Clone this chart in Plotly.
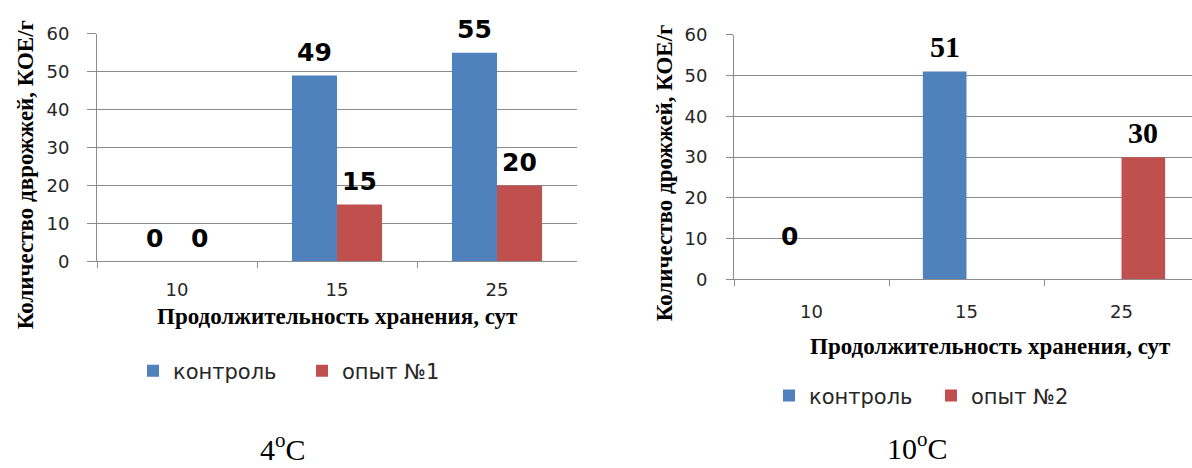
import plotly.graph_objects as go

# Storage duration, days
days = ["10", "15", "25"]

# Yeast counts at 4 °C, CFU/g
control_4c = [0, 49, 55]
trial1_4c = [0, 15, 20]

# Yeast counts at 10 °C, CFU/g (missing bars are None)
control_10c = [0, 51, None]
trial2_10c = [None, None, 30]

y_ticks = [0, 10, 20, 30, 40, 50, 60]

BLUE = "#4F81BD"
RED = "#C0504D"
GRID = "#8C8C8C"
TXT = "#262626"
W, H = 1192, 468
BARGAP = 0.437


def px_x(p):
    return p / W


def px_y(p):
    return 1 - p / H


# plot areas in pixels
left_box = dict(x0=97, x1=577, y0=24, y1=262)
right_box = dict(x0=734, x1=1192, y0=25, y1=281)
right_cat_px = 155  # width of one category on the right panel

fig = go.Figure()

fig.add_trace(go.Bar(x=days, y=control_4c, name="контроль", marker_color=BLUE,
                     xaxis="x", yaxis="y", legend="legend"))
fig.add_trace(go.Bar(x=days, y=trial1_4c, name="опыт №1", marker_color=RED,
                     xaxis="x", yaxis="y", legend="legend"))
fig.add_trace(go.Bar(x=days, y=control_10c, name="контроль", marker_color=BLUE,
                     xaxis="x2", yaxis="y2", legend="legend2"))
fig.add_trace(go.Bar(x=days, y=trial2_10c, name="опыт №2", marker_color=RED,
                     xaxis="x2", yaxis="y2", legend="legend2"))
fig.update_traces(marker_line_width=0)

tick_font = dict(family="DejaVu Sans", size=18, color=TXT)

common_x = dict(type="category", showgrid=False, showline=True, linecolor=GRID,
                linewidth=1, ticks="outside", tickson="boundaries", ticklen=6,
                tickcolor=GRID, tickfont=tick_font, fixedrange=True)
common_y = dict(range=[0, 60], tickvals=y_ticks, showgrid=True, gridcolor=GRID,
                gridwidth=1, showline=True, linecolor=GRID, linewidth=1,
                ticks="outside", tickcolor=GRID, tickfont=tick_font,
                zeroline=False, fixedrange=True)

left_cat_px = (left_box["x1"] - left_box["x0"]) / 3
right_span = (right_box["x1"] - right_box["x0"]) / right_cat_px

legend_font = dict(family="DejaVu Sans", size=21, color=TXT)

fig.update_layout(
    width=W, height=H,
    margin=dict(l=0, r=0, t=0, b=0),
    paper_bgcolor="white", plot_bgcolor="white",
    barmode="group", bargap=BARGAP, bargroupgap=0,
    xaxis=dict(common_x, domain=[px_x(left_box["x0"]), px_x(left_box["x1"])],
               range=[-0.5, 2.5], anchor="y", ticklabelstandoff=12),
    yaxis=dict(common_y, domain=[px_y(left_box["y1"]), px_y(left_box["y0"])],
               anchor="x", ticklen=9, ticklabelstandoff=14),
    xaxis2=dict(common_x, domain=[px_x(right_box["x0"]), px_x(right_box["x1"])],
                range=[-0.5, -0.5 + right_span], anchor="y2", ticklabelstandoff=16),
    yaxis2=dict(common_y, domain=[px_y(right_box["y1"]), px_y(right_box["y0"])],
                anchor="x2", ticklen=7, ticklabelstandoff=15),
    legend=dict(orientation="h", x=px_x(133), xanchor="left", y=px_y(377),
                yanchor="middle", font=legend_font,
                entrywidth=124, entrywidthmode="pixels", bgcolor="rgba(0,0,0,0)"),
    legend2=dict(orientation="h", x=px_x(769), xanchor="left", y=px_y(403),
                 yanchor="middle", font=legend_font,
                 entrywidth=117, entrywidthmode="pixels", bgcolor="rgba(0,0,0,0)"),
    showlegend=True,
)

annotations = []

# value labels above each bar
sans_bold = dict(family="DejaVu Sans", size=25, color="black", weight="bold")
serif_bold = dict(family="Liberation Serif", size=30, color="black", weight="bold")


def add_labels(values, xref, yref, cat_px, side, lift, font, zero_lift=None):
    half = cat_px * (1 - BARGAP) / 4
    for idx, v in enumerate(values):
        if v is None:
            continue
        f = font
        shift = lift
        if v == 0:
            f = sans_bold
            if zero_lift is not None:
                shift = zero_lift
        # category axes take the category index as the annotation position
        annotations.append(dict(
            x=idx, y=v, xref=xref, yref=yref, text=str(v), showarrow=False,
            xshift=side * half, yshift=shift, yanchor="middle", xanchor="center",
            font=f))


add_labels(control_4c, "x", "y", left_cat_px, -1, 23, sans_bold)
add_labels(trial1_4c, "x", "y", left_cat_px, 1, 23, sans_bold)
add_labels(control_10c, "x2", "y2", right_cat_px, -1, 25, serif_bold, zero_lift=43)
add_labels(trial2_10c, "x2", "y2", right_cat_px, 1, 25, serif_bold)

title_font = dict(family="Liberation Serif", size=23, color="black", weight="bold")

# axis titles
annotations += [
    dict(x=px_x(25), y=px_y(172), xref="paper", yref="paper", showarrow=False,
         text="Количество дврожжей, КОЕ/г", textangle=-90, font=title_font,
         xanchor="center", yanchor="middle"),
    dict(x=px_x(337), y=px_y(320), xref="paper", yref="paper", showarrow=False,
         text="Продолжительность хранения, сут", font=title_font,
         xanchor="center", yanchor="middle"),
    dict(x=px_x(664), y=px_y(170), xref="paper", yref="paper", showarrow=False,
         text="Количество дрожжей, КОЕ/г", textangle=-90, font=title_font,
         xanchor="center", yanchor="middle"),
    dict(x=px_x(990), y=px_y(351), xref="paper", yref="paper", showarrow=False,
         text="Продолжительность хранения, сут", font=title_font,
         xanchor="center", yanchor="middle"),
]

# temperature captions under each panel
caption_font = dict(family="Liberation Serif", size=30, color="black")
annotations += [
    dict(x=px_x(283), y=px_y(456), xref="paper", yref="paper", showarrow=False,
         text="4<sup>o</sup>C", font=caption_font, xanchor="center", yanchor="middle"),
    dict(x=px_x(917), y=px_y(455), xref="paper", yref="paper", showarrow=False,
         text="10<sup>o</sup>C", font=caption_font, xanchor="center", yanchor="middle"),
]

fig.update_layout(annotations=annotations)

fig.write_html("out.html")
